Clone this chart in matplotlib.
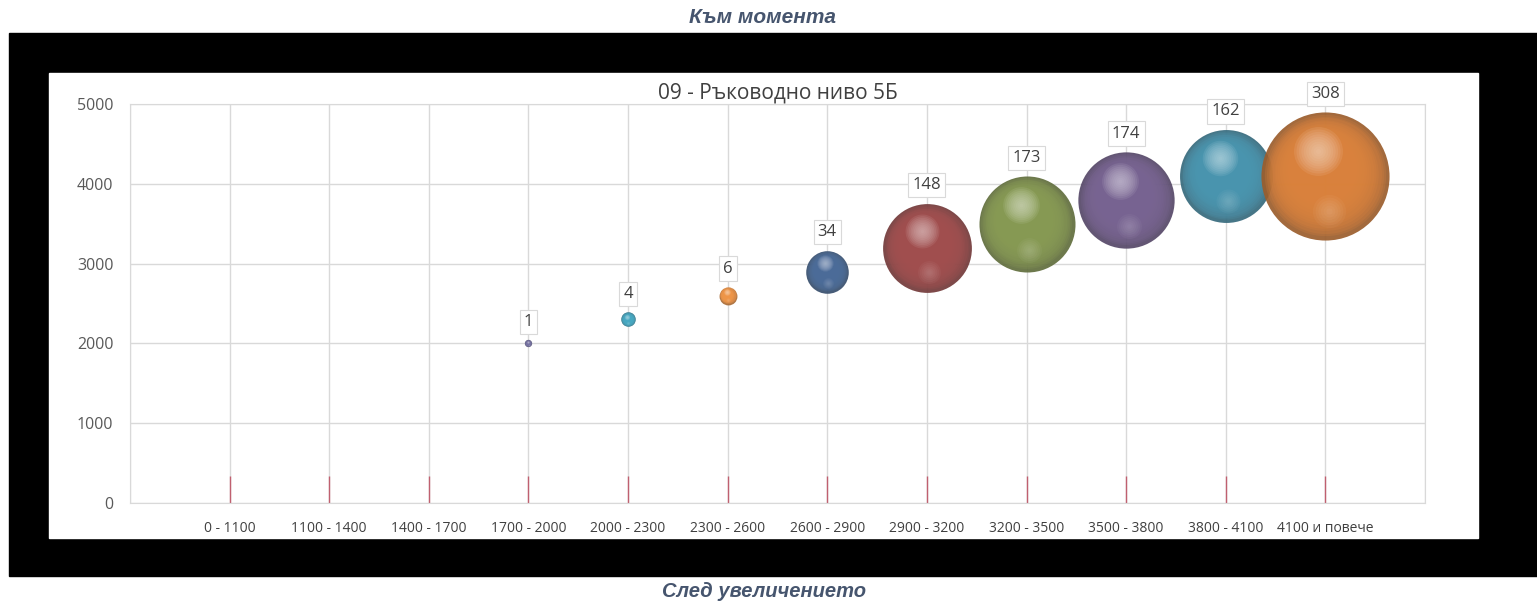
import matplotlib
matplotlib.use("Agg")
import matplotlib.pyplot as plt
import matplotlib.colors as mcolors
from matplotlib.patches import Rectangle
from matplotlib.transforms import offset_copy
import numpy as np

# categories on the x axis
categories = ["0 - 1100", "1100 - 1400", "1400 - 1700", "1700 - 2000",
              "2000 - 2300", "2300 - 2600", "2600 - 2900", "2900 - 3200",
              "3200 - 3500", "3500 - 3800", "3800 - 4100", "4100 и повече"]
# bubbles (only the categories that have people)
bubble_cat = [3, 4, 5, 6, 7, 8, 9, 10, 11]
bubble_y = [2000, 2300, 2600, 2900, 3200, 3500, 3800, 4100, 4100]
bubble_count = [1, 4, 6, 34, 148, 173, 174, 162, 308]
bubble_colors = ["#7a76a6", "#4bacc6", "#f2994c", "#4f6f9c", "#a45252",
                 "#8a9d57", "#7b6795", "#4d98b2", "#dd853f"]
marker_height = [340] * len(categories)
yticks = [0, 1000, 2000, 3000, 4000, 5000]

top_text = "Към момента"
bottom_text = "След увеличението"
chart_title = "09 - Ръководно ниво 5Б"

FONT = ["Open Sans", "DejaVu Sans"]
plt.rcParams["font.family"] = FONT

fig = plt.figure(figsize=(15.37, 6.05), dpi=100)
fig.patch.set_facecolor("white")
fig.patches.append(Rectangle((0.00586, 0.04793), 0.99414, 0.89752,
                             transform=fig.transFigure, color="black", zorder=-2))
fig.patches.append(Rectangle((0.03188, 0.11074), 0.92973, 0.76860,
                             transform=fig.transFigure, color="white", zorder=-1))

fig.text(0.4964, 0.9719, top_text, ha="center", va="center", fontsize=15,
         fontweight="bold", fontstyle="italic", color="#46556e",
         family=["Liberation Sans", "DejaVu Sans"])
fig.text(0.4971, 0.0215, bottom_text, ha="center", va="center", fontsize=14.5,
         fontweight="bold", fontstyle="italic", color="#46556e",
         family=["Liberation Sans", "DejaVu Sans"])

ax = fig.add_axes([0.08458, 0.16860, 0.84255, 0.65950])
ax.set_facecolor("white")
x = np.arange(1, len(categories) + 1)
ax.set_xlim(0, len(categories) + 1)
ax.set_ylim(0, 5000)

grid_c = "#d9d9d9"
ax.set_xticks(np.arange(0, len(categories) + 2))
ax.set_xticklabels([""] + categories + [""], fontsize=10, color="#404040")
ax.set_yticks(yticks)
ax.set_yticklabels([str(v) for v in yticks], fontsize=11.5, color="#595959")
ax.tick_params(axis="both", length=0)
ax.tick_params(axis="x", pad=13)
ax.tick_params(axis="y", pad=12)
ax.grid(True, color=grid_c, linewidth=1)
ax.set_axisbelow(True)
for sp in ax.spines.values():
    sp.set_color(grid_c)

# small red marks at each category
ax.vlines(x, 0, marker_height, color="#c06070", linewidth=1.0, zorder=2)

ax.set_title(chart_title, fontsize=15, color="#404040", pad=3)


def mix(c1, c2, t):
    a = np.array(mcolors.to_rgb(c1))
    b = np.array(mcolors.to_rgb(c2))
    return tuple(a + (b - a) * t)


def blob(xv, yv, r, dx, dy, color, alpha, z):
    # one round layer of a bubble, r/dx/dy in pixels
    tr = offset_copy(ax.transData, fig=fig, x=dx, y=dy, units="dots")
    ax.scatter([xv], [yv], s=(2 * r * 72 / 100) ** 2, color=color, alpha=alpha,
               linewidths=0, transform=tr, zorder=z)


for i, (ci, yv, cnt, col) in enumerate(zip(bubble_cat, bubble_y, bubble_count, bubble_colors)):
    xv = x[ci]
    r = 3.65 * np.sqrt(cnt)
    z = 3 + i * 0.01
    dark = mix(col, "black", 0.3)
    light = mix(col, "white", 0.6)
    blob(xv, yv, r, 0, 0, dark, 0.92, z)
    n = 18
    for k in range(n):
        t = (k + 1) / n
        blob(xv, yv, r * (0.98 - 0.6 * t), -0.08 * r * t, 0.15 * r * t, col, 0.22, z)
    for k in range(10):
        t = (k + 1) / 10
        blob(xv, yv, r * (0.42 - 0.38 * t), -0.12 * r, 0.38 * r, light, 0.13, z)
    for k in range(6):
        t = (k + 1) / 6
        blob(xv, yv, r * (0.3 - 0.25 * t), 0.05 * r, -0.55 * r, light, 0.06, z)
    ax.annotate(str(cnt), (xv, yv), xytext=(0, (r + 18) * 0.72),
                textcoords="offset points", ha="center", va="center",
                fontsize=12, color="#404040", zorder=5,
                bbox=dict(boxstyle="square,pad=0.25", fc="white", ec=grid_c, lw=0.8))

fig.savefig("out.png", dpi=100)
